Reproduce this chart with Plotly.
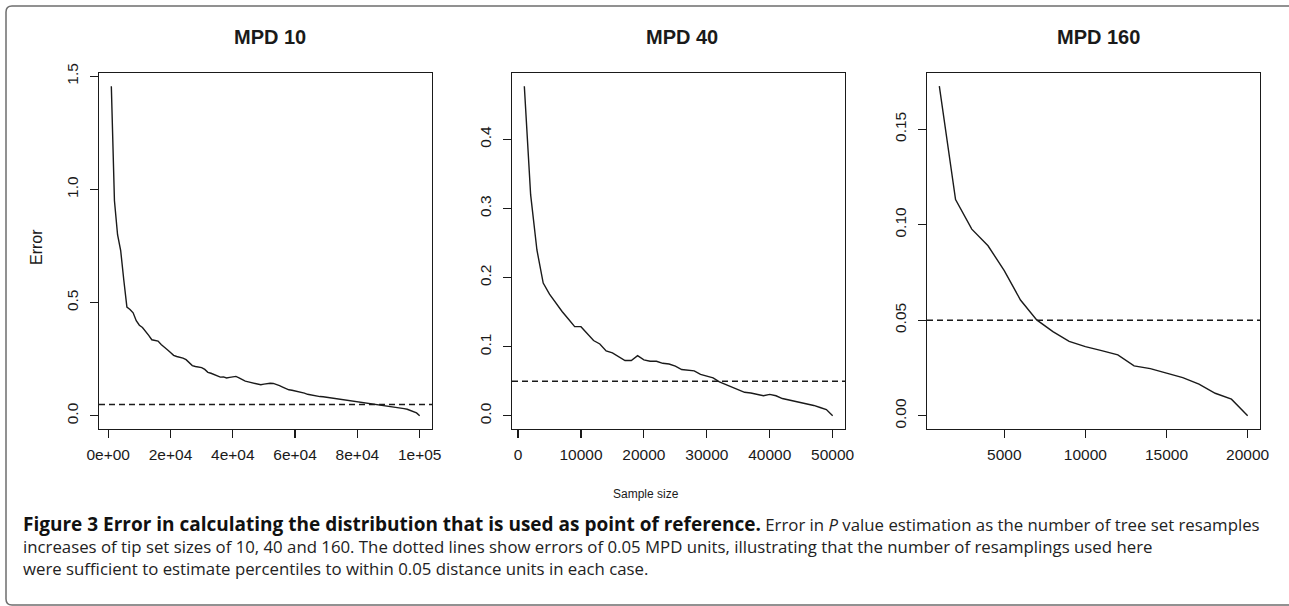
import plotly.graph_objects as go

W, H = 1289, 606

# ---------------- data ----------------
titles = ["MPD 10", "MPD 40", "MPD 160"]

x10 = [1000, 2000, 3000, 4000, 5000, 6000, 7000, 8000, 9000, 10000,
       11000, 12000, 13000, 14000, 15000, 16000, 17000, 18000, 19000, 20000,
       21000, 22000, 23000, 24000, 25000, 26000, 27000, 28000, 29000, 30000,
       31000, 32000, 33000, 34000, 35000, 36000, 37000, 38000, 39000, 40000,
       41000, 42000, 43000, 44000, 45000, 46000, 47000, 48000, 49000, 50000,
       51000, 52000, 53000, 54000, 55000, 56000, 57000, 58000, 59000, 60000,
       61000, 62000, 63000, 64000, 65000, 66000, 67000, 68000, 69000, 70000,
       71000, 72000, 73000, 74000, 75000, 76000, 77000, 78000, 79000, 80000,
       81000, 82000, 83000, 84000, 85000, 86000, 87000, 88000, 89000, 90000,
       91000, 92000, 93000, 94000, 95000, 96000, 97000, 98000, 99000, 100000]
err10 = [1.456, 0.95, 0.80, 0.73, 0.60, 0.48, 0.47, 0.455, 0.42, 0.40,
         0.39, 0.375, 0.355, 0.336, 0.334, 0.33, 0.315, 0.305, 0.292, 0.28,
         0.267, 0.262, 0.26, 0.255, 0.248, 0.235, 0.222, 0.218, 0.217, 0.213,
         0.205, 0.192, 0.188, 0.183, 0.175, 0.171, 0.172, 0.167, 0.170, 0.173,
         0.174, 0.168, 0.160, 0.153, 0.150, 0.146, 0.144, 0.140, 0.137, 0.140,
         0.143, 0.144, 0.143, 0.139, 0.133, 0.127, 0.120, 0.115, 0.113, 0.110,
         0.108, 0.104, 0.100, 0.095, 0.092, 0.089, 0.086, 0.085, 0.084, 0.082,
         0.080, 0.078, 0.077, 0.075, 0.072, 0.070, 0.068, 0.066, 0.064, 0.062,
         0.061, 0.059, 0.057, 0.056, 0.054, 0.052, 0.050, 0.049, 0.047, 0.045,
         0.043, 0.041, 0.038, 0.035, 0.032, 0.029, 0.024, 0.018, 0.013, 0.0]

x40 = [1000, 2000, 3000, 4000, 5000, 6000, 7000, 8000, 9000, 10000,
       11000, 12000, 13000, 14000, 15000, 16000, 17000, 18000, 19000, 20000,
       21000, 22000, 23000, 24000, 25000, 26000, 27000, 28000, 29000, 30000,
       31000, 32000, 33000, 34000, 35000, 36000, 37000, 38000, 39000, 40000,
       41000, 42000, 43000, 44000, 45000, 46000, 47000, 48000, 49000, 50000]
err40 = [0.477, 0.32, 0.24, 0.192, 0.176, 0.163, 0.151, 0.140, 0.129, 0.129,
         0.119, 0.109, 0.104, 0.094, 0.091, 0.086, 0.080, 0.080, 0.087, 0.081,
         0.079, 0.079, 0.076, 0.075, 0.072, 0.067, 0.066, 0.065, 0.060, 0.057,
         0.055, 0.049, 0.045, 0.042, 0.038, 0.034, 0.033, 0.031, 0.029, 0.031,
         0.029, 0.025, 0.023, 0.021, 0.020, 0.017, 0.015, 0.012, 0.009, 0.0]

x160 = [1000, 2000, 3000, 4000, 5000, 6000, 7000, 8000, 9000, 10000,
        11000, 12000, 13000, 14000, 15000, 16000, 17000, 18000, 19000, 20000]
err160 = [0.1725, 0.1132, 0.0977, 0.0890, 0.0760, 0.0606, 0.0502, 0.0441, 0.0390, 0.0362,
          0.0341, 0.0319, 0.0261, 0.0247, 0.0223, 0.0200, 0.0166, 0.0118, 0.0087, 0.0]

threshold = 0.05

xtick_vals = [[0, 20000, 40000, 60000, 80000, 100000],
              [0, 10000, 20000, 30000, 40000, 50000],
              [5000, 10000, 15000, 20000]]
xtick_text = [["0e+00", "2e+04", "4e+04", "6e+04", "8e+04", "1e+05"],
              ["0", "10000", "20000", "30000", "40000", "50000"],
              ["5000", "10000", "15000", "20000"]]
ytick_vals = [[0.0, 0.5, 1.0, 1.5],
              [0.0, 0.1, 0.2, 0.3, 0.4],
              [0.0, 0.05, 0.10, 0.15]]
ytick_text = [["0.0", "0.5", "1.0", "1.5"],
              ["0.0", "0.1", "0.2", "0.3", "0.4"],
              ["0.00", "0.05", "0.10", "0.15"]]

y_label = "Error"
x_label = "Sample size"
caption_bold = "Figure 3 Error in calculating the distribution that is used as point of reference."
caption_lines = [
    "Error in <i>P</i> value estimation as the number of tree set resamples",
    "increases of tip set sizes of 10, 40 and 160. The dotted lines show errors of 0.05 MPD units, "
    "illustrating that the number of resamplings used here",
    "were sufficient to estimate percentiles to within 0.05 distance units in each case.",
]

# ---------------- layout helpers (pixel -> paper) ----------------
def px(x):
    return x / W

def py(y):
    return 1 - y / H

box_left = [99, 512, 927]
box_right = [432, 845, 1260]
box_top, box_bottom = 73, 429
title_x = [270, 682, 1098]

series_x = [x10, x40, x160]
series_y = [err10, err40, err160]

def r_range(vals):
    lo, hi = min(vals), max(vals)
    d = (hi - lo) * 0.04
    return [lo - d, hi + d]

AXFONT = dict(family="Liberation Sans, Arial, sans-serif", size=15.5, color="#1a1a1a")
LINEC = "#1a1a1a"

fig = go.Figure()
layout = dict(
    template="none",
    width=W, height=H, autosize=False,
    margin=dict(l=0, r=0, t=0, b=0, pad=0),
    paper_bgcolor="white", plot_bgcolor="white",
    showlegend=False,
)

for i in range(3):
    sfx = "" if i == 0 else str(i + 1)
    xa, ya = "x" + sfx, "y" + sfx
    fig.add_trace(go.Scatter(x=series_x[i], y=series_y[i], mode="lines",
                             line=dict(color=LINEC, width=1.4),
                             xaxis=xa, yaxis=ya, hoverinfo="skip"))
    common = dict(showgrid=False, zeroline=False, showline=True, mirror=True,
                  linecolor=LINEC, linewidth=1.3, ticks="outside", ticklen=8,
                  tickwidth=1.2, tickcolor=LINEC, tickfont=AXFONT, fixedrange=True,
                  automargin=False)
    layout["xaxis" + sfx] = dict(
        domain=[px(box_left[i]), px(box_right[i])], anchor=ya,
        range=r_range(series_x[i]), tickmode="array",
        tickvals=xtick_vals[i], ticktext=xtick_text[i],
        ticklabelstandoff=3, **common)
    layout["yaxis" + sfx] = dict(
        domain=[py(box_bottom), py(box_top)], anchor=xa,
        range=r_range(series_y[i] + [0]), tickmode="array",
        tickvals=ytick_vals[i], ticktext=ytick_text[i], tickangle=-90,
        ticklabelstandoff=6, **common)

fig.update_layout(**layout)

shapes = []
for i in range(3):
    sfx = "" if i == 0 else str(i + 1)
    shapes.append(dict(type="line", xref="x" + sfx + " domain", yref="y" + sfx,
                       x0=0, x1=1, y0=threshold, y1=threshold,
                       line=dict(color=LINEC, width=1.3, dash="6px,4px")))

# outer rounded frame (left, top and bottom edges)
r = 6
frame = (f"M {px(W+2)},{py(6)} L {px(6+r)},{py(6)} "
         f"Q {px(6)},{py(6)} {px(6)},{py(6+r)} "
         f"L {px(6)},{py(605-r)} Q {px(6)},{py(605)} {px(6+r)},{py(605)} "
         f"L {px(W+2)},{py(605)}")
shapes.append(dict(type="path", xref="paper", yref="paper", path=frame,
                   line=dict(color="#6e6e6e", width=1.5)))
fig.update_layout(shapes=shapes)

annotations = []
for i in range(3):
    annotations.append(dict(text="<b>" + titles[i] + "</b>", x=px(title_x[i]), y=py(37),
                            xref="paper", yref="paper", showarrow=False,
                            xanchor="center", yanchor="middle",
                            font=dict(family="Liberation Sans, Arial, sans-serif",
                                      size=20, color="#1a1a1a")))
annotations.append(dict(text=y_label, x=px(36), y=py(247), xref="paper", yref="paper",
                        showarrow=False, textangle=-90, xanchor="center", yanchor="middle",
                        font=dict(family="Liberation Sans, Arial, sans-serif",
                                  size=16, color="#1a1a1a")))
annotations.append(dict(text=x_label, x=px(646), y=py(494), xref="paper", yref="paper",
                        showarrow=False, xanchor="center", yanchor="middle",
                        font=dict(family="Liberation Sans, Arial, sans-serif",
                                  size=12, color="#1a1a1a")))

CAPFONT = "Open Sans, Noto Sans, sans-serif"
caption_text = ('<span style="font-size:19px; color:#111111"><b>' + caption_bold + "</b></span> "
                + caption_lines[0] + "<br>" + caption_lines[1] + "<br>" + caption_lines[2])
annotations.append(dict(text=caption_text, x=px(21), y=py(545),
                        xref="paper", yref="paper", showarrow=False,
                        xanchor="left", yanchor="middle", align="left",
                        font=dict(family=CAPFONT, size=16.8, color="#222222")))
fig.update_layout(annotations=annotations)

fig.write_html("out.html",
               config={"displayModeBar": False, "staticPlot": True},
               post_script="document.body.style.margin='0';"
                           "document.body.style.padding='0';"
                           "document.documentElement.style.overflow='hidden';")
